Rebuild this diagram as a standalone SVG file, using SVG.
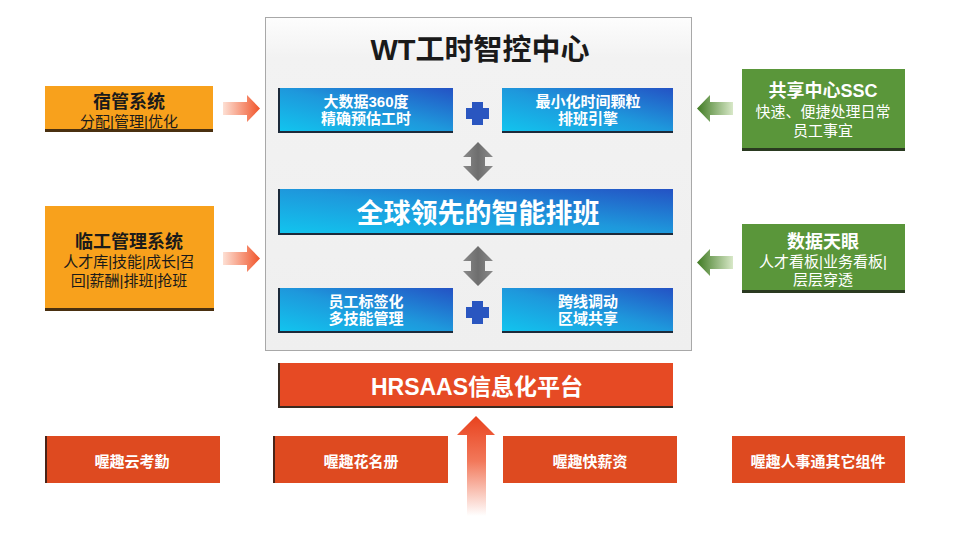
<svg xmlns="http://www.w3.org/2000/svg" width="972" height="533" viewBox="0 0 972 533">
<defs>
<linearGradient id="gBlue" x1="0" y1="1" x2="1" y2="0">
<stop offset="0" stop-color="#12c4ee"/>
<stop offset="0.5" stop-color="#1e98dc"/>
<stop offset="1" stop-color="#2452c4"/>
</linearGradient>
<linearGradient id="gPanel" x1="0" y1="0" x2="0" y2="1">
<stop offset="0" stop-color="#fdfdfd"/>
<stop offset="0.12" stop-color="#f2f2f2"/>
<stop offset="1" stop-color="#efefef"/>
</linearGradient>
<linearGradient id="gOrangeArrow" x1="0" y1="0" x2="1" y2="0">
<stop offset="0" stop-color="#fde0d4"/>
<stop offset="1" stop-color="#f0542a"/>
</linearGradient>
<linearGradient id="gGreenArrow" x1="1" y1="0" x2="0" y2="0">
<stop offset="0" stop-color="#d8e8c8"/>
<stop offset="1" stop-color="#3f7a22"/>
</linearGradient>
<linearGradient id="gUp" x1="0" y1="1" x2="0" y2="0">
<stop offset="0" stop-color="#ffffff"/>
<stop offset="0.55" stop-color="#f2785a"/>
<stop offset="1" stop-color="#e8421e"/>
</linearGradient>
<linearGradient id="gGray" x1="0" y1="0" x2="1" y2="0">
<stop offset="0" stop-color="#8a8a8a"/>
<stop offset="0.5" stop-color="#6e6e6e"/>
<stop offset="1" stop-color="#8a8a8a"/>
</linearGradient>
</defs>
<style>
text{font-family:"Liberation Sans","Noto Sans CJK SC",sans-serif;text-anchor:middle}
.w{fill:#ffffff;font-weight:bold}
.dk{fill:#1a1a1a}
.b{font-weight:bold}
.blue{fill:url(#gBlue)}
.sh{fill:#1c2a3a}
.org{fill:#f8a11c}
.grn{fill:#5a963a}
.red{fill:#e64a24}
</style>
<rect width="972" height="533" fill="#ffffff"/>

<g id="panel">
<rect x="265.5" y="17.5" width="426" height="333" fill="url(#gPanel)" stroke="#a8a8a8" stroke-width="1"/>
<text x="480" y="60" class="dk b" font-size="29">WT工时智控中心</text>
</g>

<g id="node-bigdata">
<rect x="278" y="88" width="175" height="45" class="sh"/>
<rect x="280" y="88" width="173" height="43" class="blue"/>
<text x="366" y="107" class="w" font-size="15">大数据360度</text>
<text x="366" y="124" class="w" font-size="15">精确预估工时</text>
</g>
<g id="node-minimize">
<rect x="502" y="88" width="171" height="45" fill="#1c2a3a"/>
<rect x="502" y="88" width="171" height="43" class="blue"/>
<text x="588" y="107" class="w" font-size="15">最小化时间颗粒</text>
<text x="588" y="124" class="w" font-size="15">排班引擎</text>
</g>
<g id="node-smart">
<rect x="278" y="189" width="395" height="46" class="sh"/>
<rect x="280" y="189" width="393" height="44" class="blue"/>
<text x="478" y="223" class="w" font-size="27">全球领先的智能排班</text>
</g>
<g id="node-tag">
<rect x="278" y="288" width="175" height="45" class="sh"/>
<rect x="280" y="288" width="173" height="43" class="blue"/>
<text x="366" y="307" class="w" font-size="15">员工标签化</text>
<text x="366" y="324" class="w" font-size="15">多技能管理</text>
</g>
<g id="node-cross">
<rect x="502" y="288" width="171" height="45" fill="#1c2a3a"/>
<rect x="502" y="288" width="171" height="43" class="blue"/>
<text x="588" y="307" class="w" font-size="15">跨线调动</text>
<text x="588" y="324" class="w" font-size="15">区域共享</text>
</g>

<g id="node-dorm">
<rect x="45" y="86" width="168" height="46" fill="#4a3010"/>
<rect x="45" y="86" width="168" height="43" class="org"/>
<text x="129" y="108" class="dk b" font-size="18">宿管系统</text>
<text x="129" y="127" class="dk" font-size="15">分配|管理|优化</text>
</g>
<g id="node-temp">
<rect x="45" y="206" width="169" height="105" fill="#4a3010"/>
<rect x="45" y="206" width="169" height="102" class="org"/>
<text x="129" y="248" class="dk b" font-size="18">临工管理系统</text>
<text x="129" y="267" class="dk" font-size="15">人才库|技能|成长|召</text>
<text x="129" y="286" class="dk" font-size="15">回|薪酬|排班|抢班</text>
</g>
<g id="node-ssc">
<rect x="742" y="69" width="163" height="82" fill="#2a3a20"/>
<rect x="742" y="69" width="163" height="79" class="grn"/>
<text x="823" y="97" class="w" font-size="18">共享中心SSC</text>
<text x="823" y="117" fill="#ffffff" font-size="15">快速、便捷处理日常</text>
<text x="823" y="136" fill="#ffffff" font-size="15">员工事宜</text>
</g>
<g id="node-eye">
<rect x="742" y="224" width="163" height="69" fill="#2a3a20"/>
<rect x="742" y="224" width="163" height="66" class="grn"/>
<text x="823" y="248" class="w" font-size="18">数据天眼</text>
<text x="823" y="267" fill="#ffffff" font-size="15">人才看板|业务看板|</text>
<text x="823" y="285" fill="#ffffff" font-size="15">层层穿透</text>
</g>

<g id="node-hrsaas">
<rect x="278" y="363" width="395" height="45" fill="#3a2a20"/>
<rect x="280" y="363" width="393" height="43" class="red"/>
<text x="477" y="395" class="w" font-size="23">HRSAAS信息化平台</text>
</g>

<g id="node-kaoqin">
<rect x="45" y="436" width="175" height="47" fill="#4a2418"/>
<rect x="47" y="436" width="173" height="47" fill="#de4a20"/>
<text x="132" y="467" class="w" font-size="15">喔趣云考勤</text>
</g>
<g id="node-huamingce">
<rect x="273" y="436" width="175" height="47" fill="#4a2418"/>
<rect x="275" y="436" width="173" height="47" fill="#de4a20"/>
<text x="361" y="467" class="w" font-size="15">喔趣花名册</text>
</g>
<g id="node-xinzi">
<rect x="503" y="436" width="174" height="47" fill="#de4a20"/>
<text x="590" y="467" class="w" font-size="15">喔趣快薪资</text>
</g>
<g id="node-other">
<rect x="732" y="436" width="173" height="47" fill="#de4a20"/>
<text x="818" y="467" class="w" font-size="15">喔趣人事通其它组件</text>
</g>

<g id="connectors">
<path d="M472 102h11v6h6v11h-6v6h-11v-6h-6v-11h6z" fill="#2a56c0"/>
<path d="M472 301h11v6h6v11h-6v6h-11v-6h-6v-11h6z" fill="#2a56c0"/>
<path d="M478 142 L493 157 L485 157 L485 166 L493 166 L478 181 L463 166 L471 166 L471 157 L463 157 Z" fill="url(#gGray)"/>
<path d="M478 246 L493 261 L485 261 L485 271 L493 271 L478 286 L463 271 L471 271 L471 261 L463 261 Z" fill="url(#gGray)"/>
<path d="M223 102 L247 102 L247 95 L260 108.5 L247 122 L247 115 L223 115 Z" fill="url(#gOrangeArrow)"/>
<path d="M223 252 L247 252 L247 245 L260 258.5 L247 272 L247 265 L223 265 Z" fill="url(#gOrangeArrow)"/>
<path d="M733 102 L710 102 L710 95 L697 108.5 L710 122 L710 115 L733 115 Z" fill="url(#gGreenArrow)"/>
<path d="M733 256 L710 256 L710 249 L697 262.5 L710 276 L710 269 L733 269 Z" fill="url(#gGreenArrow)"/>
<path d="M476 416 L495 435 L486 435 L486 516 L467 516 L467 435 L457 435 Z" fill="url(#gUp)"/>
</g>
</svg>
